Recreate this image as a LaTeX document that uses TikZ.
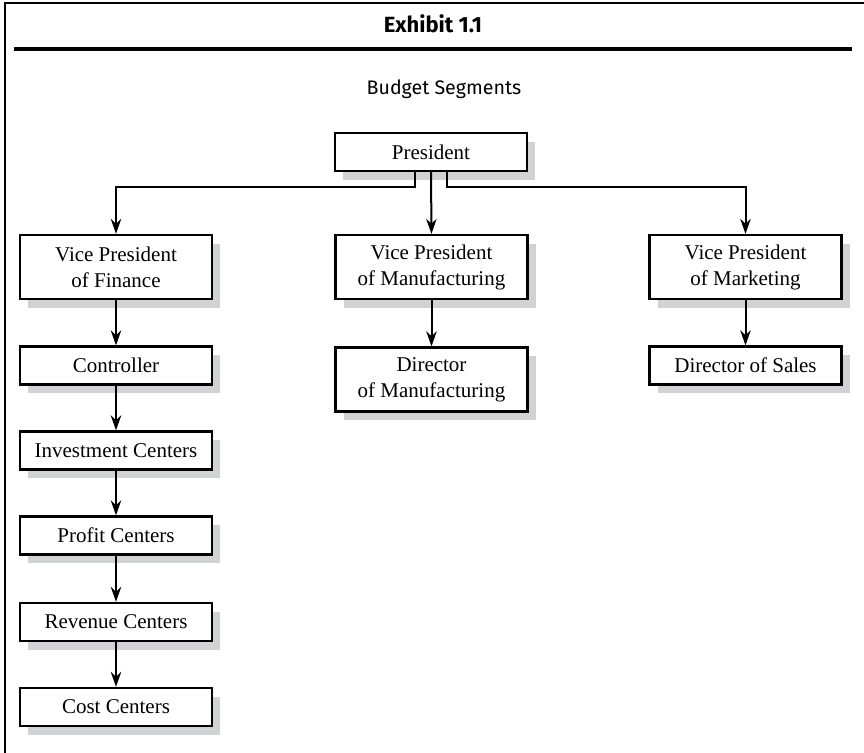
\documentclass[tikz,border=0pt]{standalone}
\usepackage{fontspec}
\setmainfont{Liberation Serif}
\newfontfamily\headfont{Fira Sans}
\usetikzlibrary{arrows.meta,shadows}
\definecolor{shadegray}{RGB}{209,210,212}

\begin{document}
\begin{tikzpicture}[x=0.5pt,y=-0.5pt,
    unit/.style={draw,line width=1.1pt,fill=white,minimum width=96pt,minimum height=19pt,inner sep=0pt,align=center,
      font=\fontsize{10.5}{13}\selectfont,
      drop shadow={shadow xshift=4pt,shadow yshift=-4.5pt,fill=shadegray,opacity=1}},
    tall/.style={unit,minimum height=32pt},
    link/.style={line width=1pt,-{Stealth[length=7.5pt,width=5.2pt,inset=2.4pt]}}]
                \useasboundingbox (0,0) rectangle (864,753);
                \draw[line width=1pt] (5,753)--(5,3)--(864,3);
                \draw[line width=2pt] (14,49)--(852,49);
                \node (title) at (433,24) {\headfont\bfseries\fontsize{11}{13}\selectfont Exhibit 1.1};
                \node (subtitle) at (444,89) {\headfont\fontsize{9.8}{12}\selectfont Budget Segments};
                \node[unit] (pres) at (431,152) {President};
                \node[tall] (vpfin) at (116,267) {Vice President\\of Finance};
                \node[tall] (vpman) at (431.5,267) {Vice President\\of Manufacturing};
                \node[tall] (vpmkt) at (745.5,267) {Vice President\\of Marketing};
                \node[unit] (ctrl) at (116,365.5) {Controller};
                \node[tall] (dirman) at (431.5,379.5) {Director\\of Manufacturing};
                \node[unit] (dirsales) at (745.5,365.5) {Director of Sales};
                \node[unit] (invest) at (116,450.5) {Investment Centers};
                \node[unit] (profit) at (116,535.5) {Profit Centers};
                \node[unit] (revenue) at (116,622) {Revenue Centers};
                \node[unit] (cost) at (116,707) {Cost Centers};
                \coordinate (busL) at (415,187);
                \coordinate (busR) at (447,187);
                \draw[link] (pres.south -| busL)--(busL)-|(vpfin.north);
                \draw[link] (pres.south -| busR)--(busR)-|(vpmkt.north);
                \draw[link] (pres.south)--(vpman.north);
                \draw[link] (vpfin)--(ctrl);
                \draw[link] (ctrl)--(invest);
                \draw[link] (invest)--(profit);
                \draw[link] (profit)--(revenue);
                \draw[link] (revenue)--(cost);
                \draw[link] (vpman)--(dirman);
                \draw[link] (vpmkt)--(dirsales);
            \end{tikzpicture}
\end{document}
